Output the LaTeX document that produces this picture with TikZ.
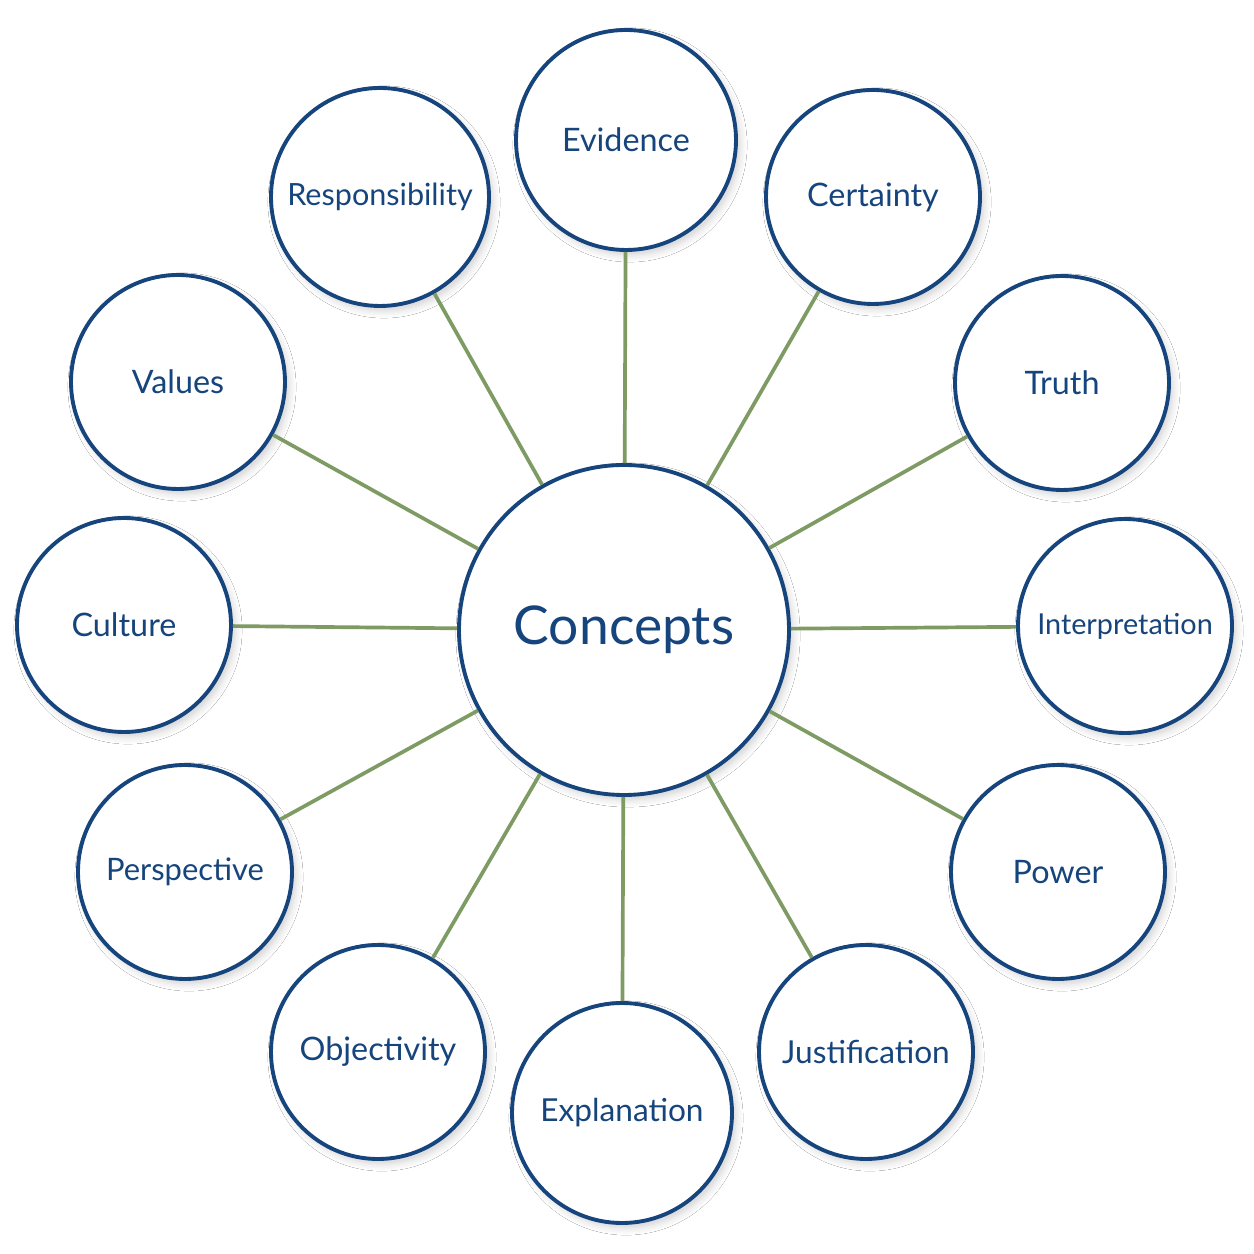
\documentclass[tikz,border=0pt]{standalone}
\usepackage{fontspec}
\setmainfont{Lato}
\usepackage{xcolor}
\usetikzlibrary{positioning,shadows.blur}
\definecolor{conceptblue}{RGB}{22,68,124}
\definecolor{spokegreen}{RGB}{125,155,98}
\tikzset{%
	hub/.style     = {draw=conceptblue, line width=1.1pt, circle, fill=white, minimum size=3.3cm, text=conceptblue, font=\fontsize{15.2}{18}\selectfont, blur shadow={shadow blur steps=6, shadow xshift=0.04cm, shadow yshift=-0.05cm, shadow opacity=18}},
	idea/.style    = {draw=conceptblue, line width=1.1pt, circle, fill=white, minimum size=2.14cm, inner sep=0pt, text=conceptblue, font=\fontsize{9.2}{11}\selectfont, blur shadow={shadow blur steps=6, shadow xshift=0.04cm, shadow yshift=-0.05cm, shadow opacity=18}},
	spoke/.style   = {draw=spokegreen, line width=1.05pt},
}
\begin{document}
\begin{tikzpicture}
	\useasboundingbox (-6.24,-6.24) rectangle (6.30,6.30);
	\fill[white] (-6.24,-6.24) rectangle (6.30,6.30);
	\node [hub] (concepts) at (0,0) {Concepts};
	\node [idea,minimum size=2.2cm] (evidence) at (0.02,4.90) {Evidence};
	\node [idea] (certainty) at (2.49,4.33) {Certainty};
	\node [idea] (truth) at (4.38,2.47) {Truth};
	\node [idea,font=\fontsize{8.2}{10}\selectfont] (interp) at (5.01,0.04) {Interpretation};
	\node [idea] (power) at (4.34,-2.42) {Power};
	\node [idea,font=\fontsize{9}{11}\selectfont] (justif) at (2.42,-4.22) {Justification};
	\node [idea,minimum size=2.2cm,font=\fontsize{9}{11}\selectfont] (explan) at (-0.02,-4.83) {Explanation};
	\node [idea] (object) at (-2.46,-4.22) {Objectivity};
	\node [idea,font=\fontsize{8.8}{11}\selectfont] (persp) at (-4.39,-2.42) {Perspective};
	\node [idea] (culture) at (-5.00,0.05) {Culture};
	\node [idea] (values) at (-4.46,2.48) {Values};
	\node [idea,minimum size=2.18cm,font=\fontsize{8.7}{11}\selectfont] (respons) at (-2.44,4.33) {Responsibility};

	\draw[spoke] (concepts) -- (evidence);
	\draw[spoke] (concepts) -- (certainty);
	\draw[spoke] (concepts) -- (truth);
	\draw[spoke] (concepts) -- (interp);
	\draw[spoke] (concepts) -- (power);
	\draw[spoke] (concepts) -- (justif);
	\draw[spoke] (concepts) -- (explan);
	\draw[spoke] (concepts) -- (object);
	\draw[spoke] (concepts) -- (persp);
	\draw[spoke] (concepts) -- (culture);
	\draw[spoke] (concepts) -- (values);
	\draw[spoke] (concepts) -- (respons);
\end{tikzpicture}
\end{document}
